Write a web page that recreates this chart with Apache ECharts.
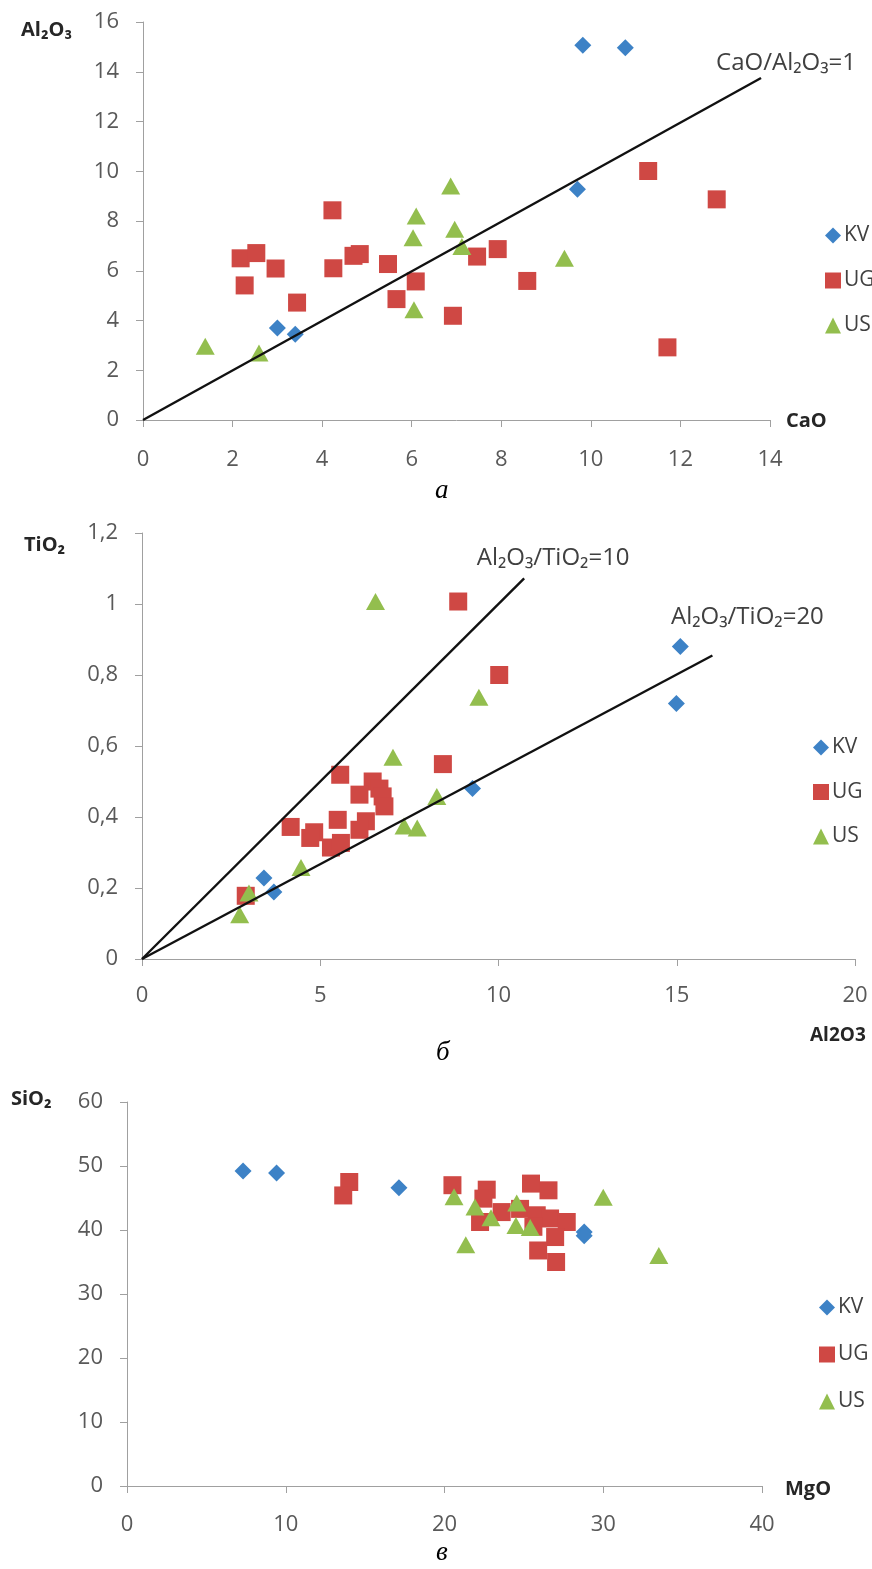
<!DOCTYPE html>
<html>
<head>
<meta charset="utf-8">
<script src="https://cdn.jsdelivr.net/npm/echarts@6/dist/echarts.min.js"></script>
<style>
  html, body { margin: 0; padding: 0; background: #fff; }
  #chart { width: 872px; height: 1569px; }
</style>
</head>
<body>
<div id="chart"></div>
<script>
// а: CaO (x) vs Al2O3 (y)
const caoKV = [[3.0, 3.7], [3.4, 3.45], [9.82, 15.07], [10.77, 14.96], [9.7, 9.28]];
const caoUG = [[2.18, 6.5], [2.53, 6.71], [2.27, 5.41], [2.96, 6.09], [3.44, 4.72], [4.23, 8.43],
  [4.25, 6.1], [4.7, 6.6], [4.84, 6.67], [5.47, 6.27], [5.66, 4.86], [6.09, 5.57], [6.92, 4.19],
  [7.46, 6.57], [7.92, 6.87], [8.58, 5.59], [11.28, 10.01], [12.81, 8.87], [11.71, 2.92]];
const caoUS = [[1.39, 2.96], [2.59, 2.69], [6.87, 9.41], [6.1, 8.2], [6.03, 7.33], [6.96, 7.67],
  [7.12, 6.97], [6.05, 4.43], [9.41, 6.5]];
const caoLine = [[0, 0], [13.8, 13.75]];

// б: Al2O3 (x) vs TiO2 (y)
const tiKV = [[3.42, 0.228], [3.7, 0.189], [9.27, 0.48], [15.1, 0.88], [14.99, 0.72]];
const tiUG = [[8.87, 1.007], [10.02, 0.8], [8.44, 0.549], [5.56, 0.519], [6.47, 0.5], [6.66, 0.48],
  [6.1, 0.463], [6.75, 0.458], [6.8, 0.43], [5.49, 0.392], [6.28, 0.388], [6.1, 0.364],
  [4.17, 0.372], [4.83, 0.357], [4.72, 0.341], [5.3, 0.314], [5.58, 0.327], [2.91, 0.178]];
const tiUS = [[6.55, 1.007], [9.45, 0.737], [7.04, 0.568], [8.27, 0.458], [7.35, 0.375],
  [7.72, 0.369], [4.46, 0.258], [3.0, 0.186], [2.74, 0.125]];
const tiLine10 = [[0, 0], [10.72, 1.072]];
const tiLine20 = [[0, 0], [16.0, 0.855]];

// в: MgO (x) vs SiO2 (y)
const mgKV = [[7.31, 49.2], [9.42, 48.9], [17.13, 46.6], [28.8, 39.7], [28.8, 39.1]];
const mgUG = [[14.0, 47.5], [13.62, 45.4], [20.5, 47.0], [22.66, 46.3], [22.45, 44.9], [25.45, 47.25],
  [26.55, 46.2], [22.24, 41.25], [23.6, 42.8], [24.76, 43.3], [25.81, 42.3], [26.65, 41.8],
  [27.7, 41.25], [26.97, 38.9], [25.9, 36.8], [27.03, 35.0], [25.6, 40.5]];
const mgUS = [[20.6, 45.2], [21.92, 43.6], [22.93, 41.9], [24.55, 44.2], [24.5, 40.7], [25.4, 40.4],
  [21.34, 37.7], [30.0, 45.1], [33.5, 36.0]];

const FONT = '"Open Sans", "DejaVu Sans", sans-serif';
const BLUE = '#3D82C6', RED = '#CF4844', GREEN = '#93BE4E';
const AXIS_GRAY = '#a0a0a0';

function xAxisOf(grid, max, interval, labelMargin) {
  return {
    type: 'value', gridIndex: grid, min: 0, max: max, interval: interval,
    splitLine: { show: false },
    axisLine: { show: true, lineStyle: { color: AXIS_GRAY, width: 1 } },
    axisTick: { show: true, length: 7, lineStyle: { color: AXIS_GRAY } },
    axisLabel: { margin: labelMargin, fontSize: 22, color: '#595959', fontFamily: FONT }
  };
}
function yAxisOf(grid, max, interval, fmt) {
  return {
    type: 'value', gridIndex: grid, min: 0, max: max, interval: interval,
    splitLine: { show: false },
    axisLine: { show: true, lineStyle: { color: AXIS_GRAY, width: 1 } },
    axisTick: { show: true, length: 7, lineStyle: { color: AXIS_GRAY } },
    axisLabel: { margin: 24, fontSize: 22, color: '#595959', fontFamily: FONT, formatter: fmt }
  };
}
function pts(name, grid, data, symbol, size, color) {
  return {
    name: name, type: 'scatter', xAxisIndex: grid, yAxisIndex: grid,
    symbol: symbol, symbolSize: size, data: data,
    itemStyle: { color: color, opacity: 1 }
  };
}
function ratioLine(grid, data, text, dx, dy) {
  const last = data[data.length - 1];
  return {
    type: 'line', xAxisIndex: grid, yAxisIndex: grid, z: 5,
    symbol: 'circle', symbolSize: 0, showSymbol: true,
    lineStyle: { color: '#111', width: 2.4 },
    data: [data[0], {
      value: last,
      label: {
        show: true, formatter: text, position: [dx, dy], align: 'center', verticalAlign: 'middle',
        fontSize: 24, color: '#404040', fontFamily: FONT
      }
    }]
  };
}
function legendAt(left, top, gap) {
  return {
    orient: 'vertical', left: left, top: top, itemGap: gap,
    itemWidth: 16, itemHeight: 16, itemStyle: { borderWidth: 0 },
    textStyle: { fontSize: 21, color: '#404040', fontFamily: FONT, lineHeight: 20, padding: [0, 0, 0, -2] },
    data: [{ name: 'KV', icon: 'diamond' }, { name: 'UG', icon: 'rect' }, { name: 'US', icon: 'triangle' }]
  };
}
function txt(x, y, text, size, bold) {
  return {
    type: 'text', left: x, top: y, silent: true,
    style: { text: text, fontSize: size, fontWeight: bold ? 'bold' : 'normal',
      fill: '#262626', fontFamily: FONT }
  };
}
function caption(x, y, text) {
  return {
    type: 'text', left: x, top: y, silent: true,
    style: { text: text, fontSize: 27, fontStyle: 'italic', fill: '#000',
      fontFamily: '"Liberation Serif", "DejaVu Serif", serif' }
  };
}

const commaFmt = v => String(+v.toFixed(1)).replace('.', ',');

const chart = echarts.init(document.getElementById('chart'), null, { renderer: 'canvas' });
chart.setOption({
  animation: false,
  backgroundColor: '#fff',
  grid: [
    { left: 143, top: 22, width: 627, height: 398 },
    { left: 142, top: 533, width: 713, height: 426 },
    { left: 127, top: 1102, width: 635, height: 384 }
  ],
  xAxis: [xAxisOf(0, 14, 2, 29), xAxisOf(1, 20, 5, 26), xAxisOf(2, 40, 10, 28)],
  yAxis: [yAxisOf(0, 16, 2), yAxisOf(1, 1.2, 0.2, commaFmt), yAxisOf(2, 60, 10)],
  legend: [legendAt(820, 220, 24), legendAt(808, 732, 23.5), legendAt(814, 1292, 26)],
  graphic: [
    txt(21, 20, 'Al₂O₃', 20, true),
    txt(786, 411, 'CaO', 20, true),
    caption(435, 477, 'а'),
    txt(24, 535, 'TiO₂', 20, true),
    txt(810, 1026, 'Al2O3', 19, true),
    caption(436, 1039, 'б'),
    txt(11, 1089, 'SiO₂', 20, true),
    txt(785, 1479, 'MgO', 20, true),
    caption(436, 1539, 'в')
  ],
  series: [
    pts('KV', 0, caoKV, 'diamond', 17, BLUE),
    pts('UG', 0, caoUG, 'rect', 18, RED),
    pts('US', 0, caoUS, 'triangle', [19, 17], GREEN),
    ratioLine(0, caoLine, 'CaO/Al₂O₃=1', 25, -15),

    pts('KV', 1, tiKV, 'diamond', 17, BLUE),
    pts('UG', 1, tiUG, 'rect', 18, RED),
    pts('US', 1, tiUS, 'triangle', [19, 17], GREEN),
    ratioLine(1, tiLine10, 'Al₂O₃/TiO₂=10', 29, -20),
    ratioLine(1, tiLine20, 'Al₂O₃/TiO₂=20', 35, -38),

    pts('KV', 2, mgKV, 'diamond', 17, BLUE),
    pts('UG', 2, mgUG, 'rect', 18, RED),
    pts('US', 2, mgUS, 'triangle', [19, 17], GREEN)
  ]
});
</script>
</body>
</html>
